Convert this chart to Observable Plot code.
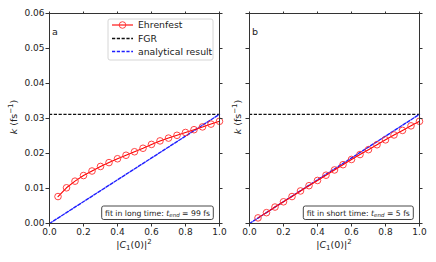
<!DOCTYPE html>
<html>
<head>
<meta charset="utf-8">
<script src="https://cdn.jsdelivr.net/npm/d3@7"></script>
<script src="https://cdn.jsdelivr.net/npm/@observablehq/plot@0.6"></script>
<style>
  html, body { margin: 0; padding: 0; background: #fff; }
  #wrap { position: relative; width: 436px; height: 262px; overflow: hidden; }
  #wrap svg { position: absolute; top: 0; }
</style>
</head>
<body>
<div id="wrap"></div>
<script>
// ---- data ----
const popX = [0.05, 0.10, 0.15, 0.20, 0.25, 0.30, 0.35, 0.40, 0.45, 0.50,
              0.55, 0.60, 0.65, 0.70, 0.75, 0.80, 0.85, 0.90, 0.95, 1.00];
const ehrenfestLong = [0.0077, 0.0102, 0.0121, 0.0137, 0.0150, 0.0163, 0.0174, 0.0185, 0.0195, 0.0205,
                       0.0215, 0.0226, 0.0236, 0.0244, 0.0252, 0.0260, 0.0268, 0.0276, 0.0284, 0.0292];
const ehrenfestShort = [0.0016, 0.0031, 0.0047, 0.0062, 0.0077, 0.0093, 0.0108, 0.0123, 0.0138, 0.0153,
                        0.0168, 0.0183, 0.0197, 0.0211, 0.0225, 0.0239, 0.0253, 0.0266, 0.0279, 0.0292];
const kFGR = 0.0312;
const analyticX = [0, 1];
const analyticK = [0, 0.0312];
const xTicks = [0, 0.2, 0.4, 0.6, 0.8, 1.0];
const yTicks = [0, 0.01, 0.02, 0.03, 0.04, 0.05, 0.06];
const legendLabels = ["Ehrenfest", "FGR", "analytical result"];

const FONT = "DejaVu Sans, sans-serif";
const RED = "#ff0000";
const BLUE = "#1f1fff";

function panel(opts) {
  const ehr = popX.map((x, i) => ({x, k: opts.ehr[i]}));
  const ana = analyticX.map((x, i) => ({x, k: analyticK[i]}));
  const svg = Plot.plot({
    width: opts.width, height: 262,
    marginTop: 13, marginBottom: 39,
    marginLeft: opts.marginLeft, marginRight: opts.marginRight,
    x: {domain: [0, 1]},
    y: {domain: [0, 0.06]},
    style: {fontFamily: FONT, fontSize: "9px", color: "#222", background: "transparent", overflow: "visible"},
    marks: [
      Plot.ruleY([kFGR], {stroke: "#111", strokeDasharray: "3.2,1.6", strokeWidth: 1.3}),
      Plot.line(ana, {x: "x", y: "k", stroke: BLUE, strokeDasharray: "3.2,1.6", strokeWidth: 1.4}),
      Plot.line(ehr, {x: "x", y: "k", stroke: RED, strokeWidth: 1.1}),
      Plot.dot(ehr, {x: "x", y: "k", r: 3.3, stroke: "#ff3030", fill: "none", strokeWidth: 0.9}),
      Plot.axisX({anchor: "bottom", ticks: xTicks, tickFormat: d3.format(".1f"), tickSize: 3.5, tickPadding: 1.5, label: null, stroke: "#333"}),
      Plot.axisX({anchor: "top", ticks: xTicks, tickFormat: () => "", tickSize: 2.5, label: null, stroke: "#333"}),
      Plot.axisY({anchor: "left", ticks: yTicks, tickFormat: opts.yLabels ? d3.format(".2f") : () => "", tickSize: 3.5, tickPadding: 1.5, label: null, stroke: "#333"}),
      Plot.axisY({anchor: "right", ticks: yTicks, tickFormat: () => "", tickSize: 2.5, label: null, stroke: "#333"}),
      Plot.frame({stroke: "#333", strokeWidth: 1})
    ]
  });
  svg.style.left = opts.left + "px";
  const s = d3.select(svg);
  const L = opts.marginLeft, R = opts.width - opts.marginRight;

  // x-axis label |C1(0)|^2
  const xl = s.append("text").attr("x", (L + R) / 2).attr("y", 247.5)
    .attr("text-anchor", "middle").attr("font-family", FONT).attr("font-size", 9.5).attr("fill", "#222");
  xl.append("tspan").text("|");
  xl.append("tspan").attr("font-style", "italic").text("C");
  xl.append("tspan").attr("font-size", 7).attr("dy", 2).text("1");
  xl.append("tspan").attr("dy", -2).text("(0)|");
  xl.append("tspan").attr("font-size", 7).attr("dy", -3.8).text("2");

  // y-axis label k (fs^-1)
  const yl = s.append("text").attr("transform", `translate(${L - opts.ylabelOffset},117) rotate(-90)`)
    .attr("text-anchor", "middle").attr("font-family", FONT).attr("font-size", 9.5).attr("fill", "#222");
  yl.append("tspan").attr("font-style", "italic").text("k");
  yl.append("tspan").text(" (fs");
  yl.append("tspan").attr("font-size", 7).attr("dy", -3.8).text("−1");
  yl.append("tspan").attr("dy", 3.8).text(")");

  // panel letter
  s.append("text").attr("x", L + 3).attr("y", 35).attr("text-anchor", "start")
    .attr("font-family", FONT).attr("font-size", 9.5).attr("fill", "#222").text(opts.letter);

  // annotation box
  const b = opts.box;
  s.append("rect").attr("x", b.x).attr("y", 206).attr("width", b.w).attr("height", 13.5)
    .attr("rx", 2).attr("fill", "#fff").attr("stroke", "#333").attr("stroke-width", 0.9);
  const t = s.append("text").attr("x", b.x + b.w / 2).attr("y", 215.6).attr("text-anchor", "middle")
    .attr("font-family", FONT).attr("font-size", 7.7).attr("fill", "#222");
  t.append("tspan").text(opts.note + " ");
  t.append("tspan").attr("font-style", "italic").text("t");
  t.append("tspan").attr("font-style", "italic").attr("font-size", 5.5).attr("dy", 1.5).text("end");
  t.append("tspan").attr("dy", -1.5).text(" = " + opts.tend + " fs");

  if (opts.legend) {
    const g = s.append("g");
    g.append("rect").attr("x", 108).attr("y", 19).attr("width", 105).attr("height", 41)
      .attr("rx", 2).attr("fill", "#fff").attr("fill-opacity", 0.85).attr("stroke", "#ccc").attr("stroke-width", 0.8);
    const rows = [25, 38.5, 51.5];
    const styles = [
      {stroke: RED, dash: null, w: 1.1},
      {stroke: "#111", dash: "3.2,1.6", w: 1.3},
      {stroke: BLUE, dash: "3.2,1.6", w: 1.4}
    ];
    rows.forEach((y, i) => {
      g.append("line").attr("x1", 112).attr("x2", 133).attr("y1", y).attr("y2", y)
        .attr("stroke", styles[i].stroke).attr("stroke-width", styles[i].w)
        .attr("stroke-dasharray", styles[i].dash);
      if (i === 0) g.append("circle").attr("cx", 122.5).attr("cy", y).attr("r", 3.3)
        .attr("fill", "none").attr("stroke", "#ff3030").attr("stroke-width", 0.9);
      g.append("text").attr("x", 138).attr("y", y + 3.3).attr("text-anchor", "start")
        .attr("font-family", FONT).attr("font-size", 9.3).attr("fill", "#222").text(legendLabels[i]);
    });
  }
  return svg;
}

const wrap = document.getElementById("wrap");
wrap.appendChild(panel({
  width: 226, left: 0, marginLeft: 49, marginRight: 7, ehr: ehrenfestLong, yLabels: true,
  ylabelOffset: 32, letter: "a", note: "fit in long time:", tend: "99",
  box: {x: 101.7, w: 111.6}, legend: true
}));
wrap.appendChild(panel({
  width: 210, left: 226, marginLeft: 23, marginRight: 17, ehr: ehrenfestShort, yLabels: false,
  ylabelOffset: 8, letter: "b", note: "fit in short time:", tend: "5",
  box: {x: 303.3 - 226, w: 110}, legend: false
}));
</script>
</body>
</html>
